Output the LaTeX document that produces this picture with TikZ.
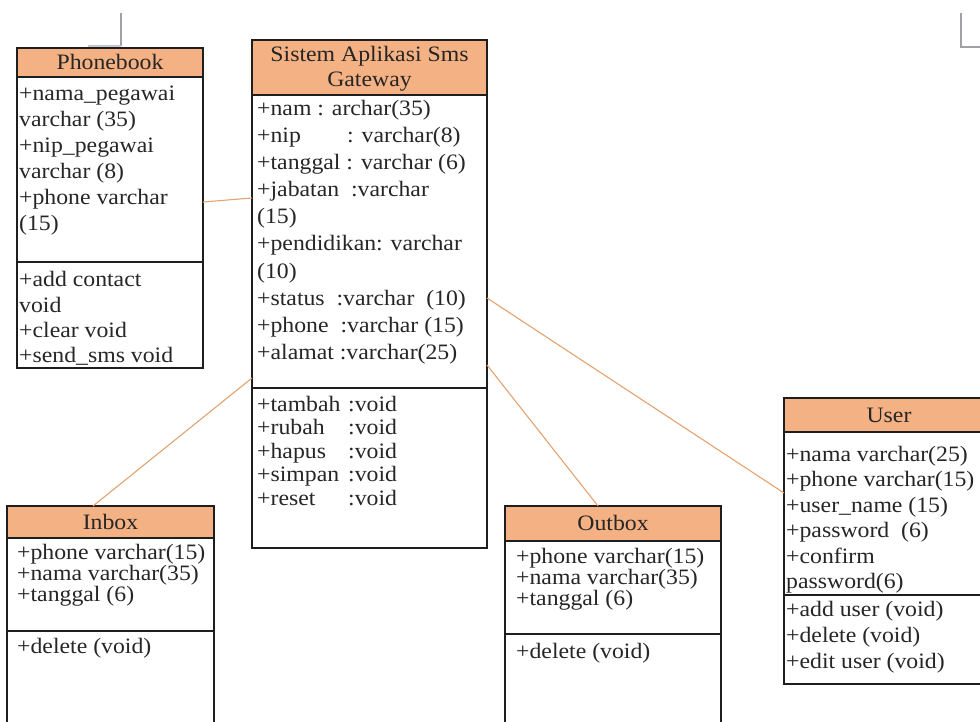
\documentclass[tikz,border=0pt]{standalone}
\usepackage{fontspec}
\setmainfont{Liberation Serif}[FakeStretch=1.08]
\usetikzlibrary{calc}
\definecolor{hdrfill}{RGB}{244,177,131}
\definecolor{boxline}{RGB}{30,30,30}
\definecolor{linkcol}{RGB}{228,163,112}
\definecolor{markcol}{RGB}{160,160,165}
\definecolor{marklight}{RGB}{195,200,212}
\newcommand{\umlfont}{\fontsize{22}{25}\selectfont}
\begin{document}
\begin{tikzpicture}[x=1pt,y=-1pt,
  box/.style={draw=boxline, line width=1.1pt, inner sep=0pt, outer sep=0pt, anchor=north west},
  hdr/.style={box, fill=hdrfill},
  lbl/.style={font=\umlfont, text=black!85, inner sep=0pt, anchor=base west},
  ttl/.style={font=\umlfont, text=black!85, inner sep=0pt, anchor=base},
  link/.style={draw=linkcol, line width=1.1pt},
  cropmark/.style={draw=markcol, line width=1.2pt}]
\clip (0,0) rectangle (980,722);
\fill[white] (0,0) rectangle (980,722);

% page corner marks
\draw[cropmark] (121,13) -- (121,46);
\draw[cropmark, draw=marklight] (121,46) -- (88,46);
\draw[cropmark] (961,13) -- (961,47) -- (980,47);

% ---------- Phonebook ----------
\node[hdr, minimum width=186pt, minimum height=29pt] (pbH) at (17,48) {};
\node[box, minimum width=186pt, minimum height=185pt] (pbA) at (17,77) {};
\node[box, minimum width=186pt, minimum height=106pt] (pbM) at (17,262) {};
\node[ttl] (pbT) at (110,70) {Phonebook};
\foreach \t [count=\i from 0] in {{+nama\_pegawai},{varchar (35)},{+nip\_pegawai},{varchar (8)},{+phone varchar},{(15)}}
  \node[lbl] (pbA\i) at (19,{101+26*\i}) {\t};
\foreach \t [count=\i from 0] in {{+add contact},{void},{+clear void},{+send\_sms void}}
  \node[lbl] (pbM\i) at (19,{287+25*\i}) {\t};

% ---------- Sistem Aplikasi Sms Gateway ----------
\node[hdr, minimum width=235pt, minimum height=55pt] (cH) at (252,40) {};
\node[box, minimum width=235pt, minimum height=293pt] (cA) at (252,95) {};
\node[box, minimum width=235pt, minimum height=160pt] (cM) at (252,388) {};
\node[ttl] (cT1) at (369.5,62) {Sistem Aplikasi Sms};
\node[ttl] (cT2) at (369.5,87) {Gateway};
\foreach \t [count=\i from 0] in {
  {+nam : archar(35)},
  {\makebox[90pt][l]{+nip}: varchar(8)},
  {+tanggal : varchar (6)},
  {+jabatan\ \ :varchar},
  {(15)},
  {+pendidikan: varchar},
  {(10)},
  {+status\ \ :varchar\ \ (10)},
  {+phone\ \ :varchar (15)},
  {+alamat :varchar(25)}}
  \node[lbl] (cA\i) at (257,{116+27*\i}) {\t};
\foreach \t [count=\i from 0] in {{tambah},{rubah},{hapus},{simpan},{reset}}
  \node[lbl] (cM\i) at (257,{411+23.5*\i}) {\makebox[91pt][l]{+\t}:void};

% ---------- Inbox ----------
\node[hdr, minimum width=207pt, minimum height=32pt] (iH) at (7,506) {};
\node[box, minimum width=207pt, minimum height=93pt] (iA) at (7,538) {};
\node[box, minimum width=207pt, minimum height=120pt] (iM) at (7,631) {};
\node[ttl] (iT) at (110.5,529) {Inbox};
\foreach \t [count=\i from 0] in {{+phone varchar(15)},{+nama varchar(35)},{+tanggal (6)}}
  \node[lbl] (iA\i) at (17,{559+21*\i}) {\t};
\node[lbl] (iM0) at (17,653) {+delete (void)};

% ---------- Outbox ----------
\node[hdr, minimum width=216pt, minimum height=35pt] (oH) at (505,506) {};
\node[box, minimum width=216pt, minimum height=93pt] (oA) at (505,541) {};
\node[box, minimum width=216pt, minimum height=120pt] (oM) at (505,634) {};
\node[ttl] (oT) at (613,530) {Outbox};
\foreach \t [count=\i from 0] in {{+phone varchar(15)},{+nama varchar(35)},{+tanggal (6)}}
  \node[lbl] (oA\i) at (516,{563+21*\i}) {\t};
\node[lbl] (oM0) at (516,658) {+delete (void)};

% ---------- User ----------
\node[hdr, minimum width=210pt, minimum height=34pt] (uH) at (784,398) {};
\node[box, minimum width=210pt, minimum height=163pt] (uA) at (784,432) {};
\node[box, minimum width=210pt, minimum height=89pt] (uM) at (784,595) {};
\node[ttl] (uT) at (889,422) {User};
\foreach \t [count=\i from 0] in {{+nama varchar(25)},{+phone varchar(15)},{+user\_name (15)},{+password\ \ (6)},{+confirm},{password(6)}}
  \node[lbl] (uA\i) at (786,{461+25.5*\i}) {\t};
\foreach \t [count=\i from 0] in {{+add user (void)},{+delete (void)},{+edit user (void)}}
  \node[lbl] (uM\i) at (786,{616+26*\i}) {\t};

% ---------- associations ----------
\draw[link] ($(pbA.north east)+(0,125)$) -- ($(cA.north west)+(0,103)$);
\draw[link] ($(iH.north west)+(86,0)$) -- ($(cA.north west)+(0,283)$);
\draw[link] ($(cA.north east)+(0,270)$) -- ($(oH.north west)+(93,0)$);
\draw[link] ($(cA.north east)+(0,203)$) -- ($(uA.north west)+(0,61)$);
\end{tikzpicture}
\end{document}
